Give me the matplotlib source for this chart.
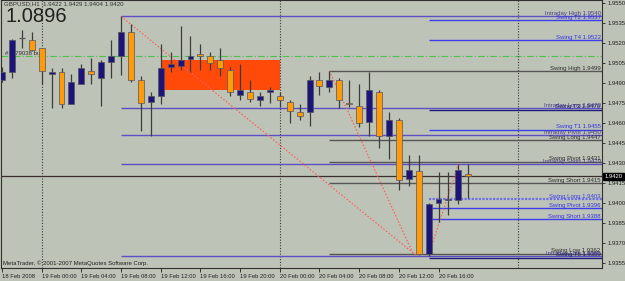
import matplotlib.pyplot as plt
from matplotlib.patches import Rectangle
from matplotlib.transforms import blended_transform_factory

plt.rcParams['font.family'] = ['Liberation Sans', 'DejaVu Sans']

# GBPUSD H1 bars, 18 Feb 20:00 .. 20 Feb 19:00
opens = [1.9492, 1.9498, 1.9524, 1.9522, 1.9516, 1.9497, 1.9498, 1.9474, 1.9489, 1.9499,
         1.9494, 1.9506, 1.9510, 1.9528, 1.9492, 1.9476, 1.9480, 1.9502, 1.9503, 1.9508,
         1.9512, 1.9510, 1.9507, 1.9500, 1.9481, 1.9483, 1.9477, 1.9483, 1.9480, 1.9476,
         1.9468, 1.9468, 1.9492, 1.9487, 1.9492, 1.9475, 1.9473, 1.9461, 1.9483, 1.9450,
         1.9462, 1.9418, 1.9424, 1.9362, 1.9400, 1.9402, 1.9402, 1.9422]
highs = [1.9502, 1.9523, 1.9530, 1.9528, 1.9516, 1.9501, 1.9501, 1.9497, 1.9504, 1.9509,
         1.9507, 1.9522, 1.9540, 1.9534, 1.9495, 1.9483, 1.9519, 1.9513, 1.9533, 1.9525,
         1.9519, 1.9513, 1.9516, 1.9502, 1.9504, 1.9492, 1.9483, 1.9487, 1.9483, 1.9477,
         1.9474, 1.9495, 1.9498, 1.9499, 1.9494, 1.9492, 1.9489, 1.9498, 1.9485, 1.9468,
         1.9464, 1.9436, 1.9436, 1.9400, 1.9423, 1.9423, 1.9429, 1.9429]
lows = [1.9491, 1.9494, 1.9516, 1.9514, 1.9489, 1.9471, 1.9471, 1.9474, 1.9489, 1.9489,
        1.9473, 1.9494, 1.9496, 1.9491, 1.9454, 1.9450, 1.9474, 1.9498, 1.9500, 1.9498,
        1.9500, 1.9500, 1.9495, 1.9480, 1.9477, 1.9476, 1.9473, 1.9475, 1.9472, 1.9460,
        1.9462, 1.9458, 1.9481, 1.9483, 1.9471, 1.9472, 1.9457, 1.9450, 1.9441, 1.9433,
        1.9410, 1.9413, 1.9361, 1.9360, 1.9386, 1.9391, 1.9399, 1.9404]
closes = [1.9498, 1.9522, 1.9524, 1.9515, 1.9499, 1.9498, 1.9474, 1.9491, 1.9501, 1.9497,
          1.9506, 1.9510, 1.9528, 1.9492, 1.9475, 1.9480, 1.9501, 1.9504, 1.9507, 1.9510,
          1.9510, 1.9505, 1.9501, 1.9483, 1.9485, 1.9478, 1.9480, 1.9485, 1.9477, 1.9469,
          1.9465, 1.9492, 1.9488, 1.9492, 1.9477, 1.9474, 1.9460, 1.9485, 1.9450, 1.9462,
          1.9417, 1.9425, 1.9362, 1.9399, 1.9403, 1.9403, 1.9425, 1.9420]

time_ticks = [0, 4, 8, 12, 16, 20, 24, 28, 32, 36, 40, 44]
time_labels = ['18 Feb 2008', '19 Feb 00:00', '19 Feb 04:00', '19 Feb 08:00', '19 Feb 12:00',
               '19 Feb 16:00', '19 Feb 20:00', '20 Feb 00:00', '20 Feb 04:00', '20 Feb 08:00',
               '20 Feb 12:00', '20 Feb 16:00']
day_breaks = [4, 28, 52]
price_ticks = [1.9355, 1.9370, 1.9385, 1.9400, 1.9415, 1.9430, 1.9445, 1.9460,
               1.9475, 1.9490, 1.9505, 1.9520, 1.9535, 1.9550]

# levels drawn by the indicators: (label, price, first bar, group)
intraday_levels = [('Intraday High 1.9540', 1.9540), ('Intraday Long 1.9470', 1.9471),
                   ('Intraday Pivot 1.9450', 1.9451), ('Intraday Short 1.9429', 1.9429),
                   ('Intraday Low 1.9360', 1.9360)]
swing_levels = [('Swing High 1.9499', 1.9499), ('Swing Long 1.9447', 1.9447),
                ('Swing Pivot 1.9431', 1.9431), ('Swing Short 1.9415', 1.9415),
                ('Swing Low 1.9362', 1.9362)]
target_levels = [('Swing T2 1.9537', 1.9537), ('Swing T4 1.9522', 1.9522),
                 ('Swing T1 1.9455', 1.9455), ('Swing Pivot 1.9396', 1.9396),
                 ('Swing Short 1.9388', 1.9388)]
target_dark = [('Swing T3 1.9470', 1.9470), ('Swing T5 1.9359', 1.9359)]
target_long = ('Swing Long 1.9403', 1.9403)
intraday_start, swing_start, target_start = 12, 33, 43

order_price = 1.9510
bid = 1.9420
zone = (16, 28, 1.9485, 1.9507)
# zigzag-ish dotted trend lines: (bar, price) pairs
trend_lines = [((12, 1.9540), (41.7, 1.9361)),
               ((33, 1.9499), (41.5, 1.9361)),
               ((43, 1.9361), (46, 1.9429))]

bg = '#bec3b7'
fig = plt.figure(figsize=(6.25, 2.81), dpi=100, facecolor=bg)
ax = fig.add_axes([1.5 / 625, 13 / 281, 600.5 / 625, 268 / 281], facecolor=bg)
ax.set_xlim(-0.05, 60.48)
ax.set_ylim(1.935125, 1.955225)

# red zone
ax.add_patch(Rectangle((zone[0], zone[2]), zone[1] - zone[0], zone[3] - zone[2],
                       facecolor='#ff4a0a', edgecolor='none', zorder=1))

ax.axhline(order_price, color='#4cc24c', lw=0.8, ls=(0, (6, 2, 1, 2)), zorder=1)
ax.text(0.3, order_price + 0.00003, '#1479038 buy', fontsize=4.3, color='#303030',
        va='bottom', ha='left', zorder=1)
for d in day_breaks:
    ax.axvline(d, color='#3a3a3a', lw=0.8, ls=(0, (1, 1.5)), zorder=1)
ax.axhline(bid, color='#3a2e2e', lw=0.9, zorder=2)

xr = ax.get_xlim()[1]
def level(label, price, start, color, ls='-', lw=1.0, lcolor=None):
    ax.hlines(price, start, xr, color=color, lw=lw, ls=ls, zorder=2)
    ax.text(xr - 0.15, price + 0.00002, label, fontsize=4.3, ha='right', va='bottom',
            color=lcolor or color, zorder=6)

for lab, p in intraday_levels:
    level(lab, p, intraday_start, '#5d4fc4', lcolor='#4a4088')
for lab, p in swing_levels:
    level(lab, p, swing_start, '#555555', lcolor='#2e2e2e')
for lab, p in target_levels:
    level(lab, p, target_start, '#3d3deb', lcolor='#3535e0')
for lab, p in target_dark:
    level(lab, p, target_start, '#1e1c78')
level(target_long[0], target_long[1], target_start, '#6e6ee8', ls=(0, (1, 0.6)), lw=1.6,
      lcolor='#4040e0')

for (x0, y0), (x1, y1) in trend_lines:
    ax.plot([x0, x1], [y0, y1], color='#ff5e5e', lw=0.9, ls=(0, (1.2, 1.5)), zorder=3)

# candles
for i, (o, h, l, c) in enumerate(zip(opens, highs, lows, closes)):
    ax.vlines(i, l, h, color='#3c3c3c', lw=0.9, zorder=4)
    if c > o:
        fc = '#1c1478'
    elif c < o:
        fc = '#ff9a0a'
    else:
        ax.hlines(o, i - 0.3, i + 0.3, color='#5a5a5a', lw=0.9, zorder=5)
        continue
    ax.bar(i, abs(c - o), 0.6, bottom=min(o, c), color=fc, edgecolor='#555560',
           linewidth=0.5, zorder=5)

# axes styling
for s in ax.spines.values():
    s.set_color('#303030')
    s.set_linewidth(0.8)
ax.yaxis.tick_right()
ax.set_yticks(price_ticks)
ax.set_yticklabels([f'{p:.4f}' for p in price_ticks])
ax.tick_params(axis='y', length=2, width=0.6, pad=2, labelsize=4.2, colors='#202020')
ax.set_xticks(time_ticks)
ax.set_xticklabels(time_labels, ha='left')
ax.tick_params(axis='x', length=3, width=0.6, pad=1.5, labelsize=4.2, colors='#202020')

# current price box
tr = blended_transform_factory(ax.transAxes, ax.transData)
ax.text(1.004, bid, f'{bid:.4f}', transform=tr, fontsize=4.2, color='white',
        va='center', ha='left', bbox=dict(facecolor='black', edgecolor='black', pad=0.8),
        zorder=10, clip_on=False)

ax.text(0.004, 0.997, 'GBPUSD,H1  1.9422 1.9429 1.9404 1.9420', transform=ax.transAxes,
        fontsize=4.4, color='#303030', va='top', ha='left', zorder=7)
ax.text(0.006, 0.975, '1.0896', transform=ax.transAxes, fontsize=14.5, color='#202020',
        va='top', ha='left', zorder=7)
ax.text(0.003, 0.006, 'MetaTrader, \u00a9 2001-2007 MetaQuotes Software Corp.',
        transform=ax.transAxes, fontsize=4.3, color='#202020', va='bottom', ha='left', zorder=7)

fig.savefig('out.png', dpi=100, facecolor=bg)
